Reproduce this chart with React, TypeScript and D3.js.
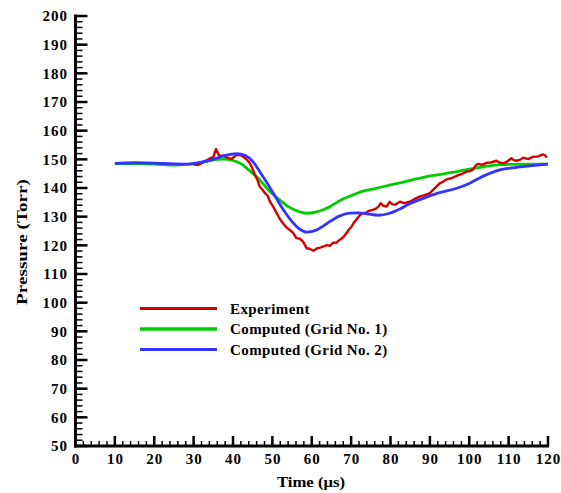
import React from "react";
import * as d3 from "d3";

const greenT = [10, 15, 20, 25, 30, 33, 35, 37.5, 40, 42, 44, 46.8, 49, 51.9, 54, 57, 58.7, 61, 64.6, 67, 70.5, 73, 76.4, 80, 84, 88.3, 92, 96.8, 100, 103.5, 106, 109.4, 115, 120];
const greenP = [148.5, 148.5, 148.3, 148.0, 148.4, 149.2, 149.8, 150.1, 149.6, 148.5, 146.3, 142.8, 139.3, 135.8, 133.5, 131.7, 131.2, 131.6, 133.5, 135.5, 137.6, 138.9, 139.9, 141.1, 142.3, 143.7, 144.6, 145.7, 146.6, 147.4, 147.9, 148.2, 148.3, 148.3];

const blueT = [10, 15, 20, 25, 28, 31, 35, 38, 41, 43, 45, 46.8, 49, 51, 53, 55, 57, 58.7, 61, 63, 64.6, 67, 69.7, 72, 74, 77, 79.8, 82.4, 85, 88.3, 92, 96.8, 100, 102.5, 105.2, 108, 112, 116, 120];
const blueP = [148.6, 148.8, 148.7, 148.4, 148.3, 148.8, 150.0, 151.4, 152.0, 151.4, 149.3, 145.7, 141, 136.4, 132, 128.3, 125.6, 124.6, 125.2, 126.8, 128.3, 130.2, 131.2, 131.3, 131, 130.5, 131.2, 132.7, 134.6, 136.4, 138.2, 139.9, 141.6, 143.4, 145.1, 146.4, 147.2, 147.8, 148.3];

const redT = [30, 31, 32, 33.2, 34.1, 35, 35.7, 36.5, 37.5, 38.4, 39.6, 40.4, 40.9, 41.8, 42.6, 43.5, 44.3, 45, 45.6, 46.2, 46.8, 47.5, 48.1, 48.8, 49.4, 50.2, 51.1, 51.9, 52.7, 53.6, 54.4, 55.3, 56.1, 57, 57.8, 58.7, 59.5, 60.4, 61.3, 62.1, 63, 63.8, 64.6, 65.4, 66.3, 67.1, 68, 68.8, 69.5, 70.1, 70.8, 71.4, 72.2, 73, 73.8, 74.7, 75.5, 76.4, 77, 77.5, 78.2, 79, 79.8, 80.5, 81.2, 82.4, 83.5, 84.9, 86, 87.4, 88.5, 90, 91, 92.5, 93.3, 94.2, 95.5, 96.8, 98, 99.3, 100.2, 101, 101.6, 102.2, 103.2, 104.4, 105.5, 106.9, 107.7, 108.6, 109.6, 110.7, 111.3, 112, 113, 113.7, 115, 116.2, 117.5, 118.7, 119.2, 119.7];
const redP = [148.3, 148, 148.6, 149.6, 150.3, 150.8, 153.6, 151.2, 151.3, 150.7, 150.1, 151.0, 151.5, 151.6, 150.9, 149.9, 148.6, 146.5, 144.5, 142.8, 140.5, 139.4, 138.2, 137.3, 135.2, 133.5, 131.2, 129.2, 127.7, 126.2, 125.4, 124.3, 122.5, 122.3, 121.3, 119.0, 118.8, 118.1, 118.9, 119.2, 119.6, 120.1, 119.8, 120.9, 121.0, 121.9, 122.8, 124.2, 125.6, 126.5, 128.1, 129.1, 130.5, 131.2, 131.4, 132.1, 132.4, 132.9, 133.6, 134.7, 133.8, 133.5, 135.2, 134.3, 134.2, 135.2, 134.7, 135.2, 136.1, 137.0, 137.4, 138.2, 139.6, 141.6, 142.2, 143.0, 143.4, 144.2, 144.8, 145.7, 145.9, 146.5, 147.8, 148.4, 148.1, 148.8, 148.9, 149.5, 148.9, 148.6, 149.2, 150.4, 149.7, 149.5, 149.9, 150.6, 150.1, 150.9, 151.0, 151.7, 151.5, 150.6];

const xMajor = d3.range(0, 121, 10);
const xMinor = d3.range(0, 121, 2);
const yMajor = d3.range(50, 201, 10);
const yMinor = d3.range(50, 201, 2);

const legendLabels = ["Experiment", "Computed (Grid No. 1)", "Computed (Grid No. 2)"];
const colors = ["#d40000", "#00cc00", "#3333ff"];

const x = d3.scaleLinear().domain([0, 120]).range([75.5, 548]);
const y = d3.scaleLinear().domain([50, 200]).range([446, 16]);

const font = "'Liberation Serif', 'Times New Roman', serif";

export default function App() {
  const smooth = d3
    .line<[number, number]>()
    .x((d) => x(d[0]))
    .y((d) => y(d[1]))
    .curve(d3.curveMonotoneX);
  const linear = d3
    .line<[number, number]>()
    .x((d) => x(d[0]))
    .y((d) => y(d[1]));

  const zip = (a: number[], b: number[]) => a.map((v, i) => [v, b[i]] as [number, number]);

  const x0 = x(0);
  const y0 = y(50);

  return (
    <svg
      width={561}
      height={493}
      style={{ position: "absolute", left: 0, top: 0, background: "#fff" }}
      fontFamily={font}
      fontWeight="bold"
    >
      <rect width={561} height={493} fill="#fff" />
      {/* curves */}
      <path d={smooth(zip(greenT, greenP)) || ""} fill="none" stroke={colors[1]} strokeWidth={2.8} />
      <path d={linear(zip(redT, redP)) || ""} fill="none" stroke={colors[0]} strokeWidth={2.4} strokeLinejoin="round" />
      <path d={smooth(zip(blueT, blueP)) || ""} fill="none" stroke={colors[2]} strokeWidth={2.8} />

      {/* y axis */}
      {yMinor.map((v) => (
        <line key={"ym" + v} x1={x0} x2={x0 + 7} y1={y(v)} y2={y(v)} stroke="#000" strokeWidth={1.5} />
      ))}
      {yMajor.map((v) => (
        <line key={"yM" + v} x1={x0} x2={x0 + 12} y1={y(v)} y2={y(v)} stroke="#000" strokeWidth={2.5} />
      ))}
      <line x1={x0} x2={x0} y1={y(200) - 1.5} y2={y0 + 1.5} stroke="#000" strokeWidth={3} />
      {yMajor.map((v) => (
        <text key={"yl" + v} x={68} y={y(v)} dy="0.35em" textAnchor="end" fontSize={15} letterSpacing={1}>
          {v}
        </text>
      ))}

      {/* x axis */}
      {xMinor.map((v) => (
        <line key={"xm" + v} x1={x(v)} x2={x(v)} y1={y0} y2={y0 - 5} stroke="#000" strokeWidth={1.5} />
      ))}
      {xMajor.map((v) => (
        <line key={"xM" + v} x1={x(v)} x2={x(v)} y1={y0} y2={y0 - 10} stroke="#000" strokeWidth={2.5} />
      ))}
      <line x1={x0 - 1.5} x2={x(120) + 1} y1={y0} y2={y0} stroke="#000" strokeWidth={3} />
      {xMajor.map((v) => (
        <text key={"xl" + v} x={x(v) + 0.5} y={464} textAnchor="middle" fontSize={15} letterSpacing={1}>
          {v}
        </text>
      ))}

      {/* titles */}
      <text x={311} y={487} textAnchor="middle" fontSize={15} textLength={68} lengthAdjust="spacingAndGlyphs">
        Time (μs)
      </text>
      <text
        transform="translate(27,242) rotate(-90)"
        textAnchor="middle"
        fontSize={15}
        textLength={126}
        lengthAdjust="spacingAndGlyphs"
      >
        Pressure (Torr)
      </text>

      {/* legend */}
      {legendLabels.map((lab, i) => (
        <g key={lab}>
          <line x1={140} x2={217} y1={308.5 + i * 20.5} y2={308.5 + i * 20.5} stroke={colors[i]} strokeWidth={i === 1 ? 3.5 : 3} />
          <text x={230} y={308.5 + i * 20.5} dy="0.35em" fontSize={15} letterSpacing={0.4}>
            {lab}
          </text>
        </g>
      ))}
    </svg>
  );
}
